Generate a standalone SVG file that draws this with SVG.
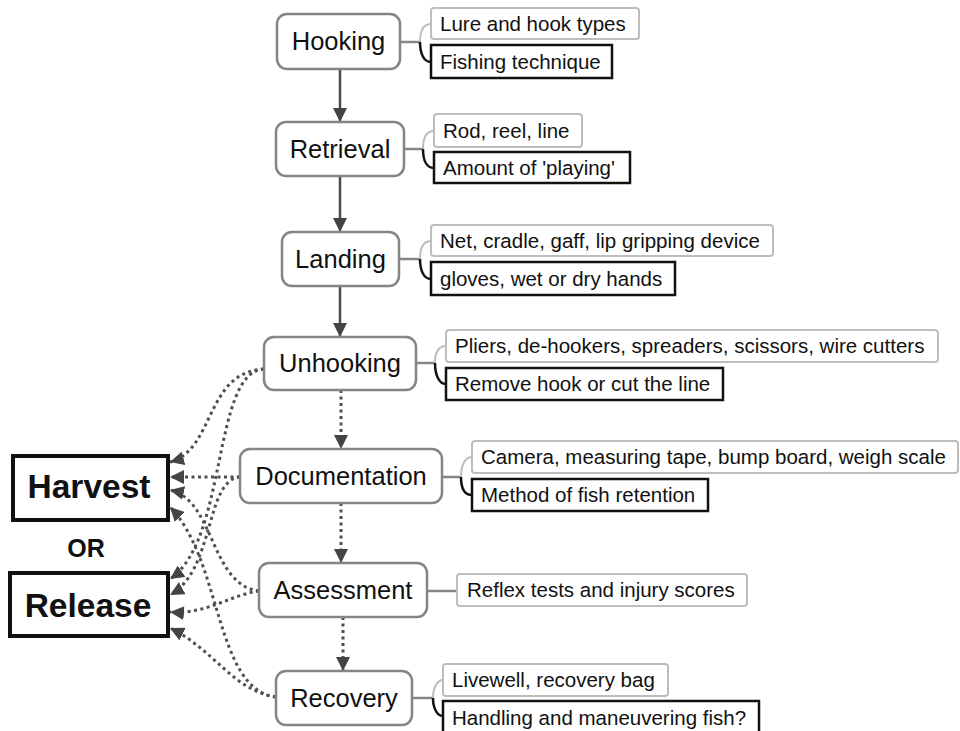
<svg xmlns="http://www.w3.org/2000/svg" width="960" height="731" viewBox="0 0 960 731">
<defs>
<style>
.node rect{fill:#fff;stroke:#858585;stroke-width:2.5}
.node text{font-family:"Liberation Sans",Arial,sans-serif;font-size:25.5px;fill:#111;text-anchor:middle}
.sub-g{fill:#fff;stroke:#bdbdbd;stroke-width:2}
.sub-b{fill:#fff;stroke:#111;stroke-width:2.5}
.st{font-family:"Liberation Sans",Arial,sans-serif;font-size:20.5px;fill:#111}
.big rect{fill:#fff;stroke:#111;stroke-width:4}
.big text{font-family:"Liberation Sans",Arial,sans-serif;font-weight:bold;font-size:33.5px;fill:#111;text-anchor:middle}
.hl{fill:none;stroke:#858585;stroke-width:2.5}
.cg{fill:none;stroke:#bdbdbd;stroke-width:2}
.cb{fill:none;stroke:#111;stroke-width:2.5}
.solid{fill:none;stroke:#4a4a4a;stroke-width:2.5}
.dot{fill:none;stroke:#4f4f4f;stroke-width:3;stroke-dasharray:3 3.5}
</style>
<marker id="ah" viewBox="0 0 12 12" refX="12" refY="6" markerWidth="14" markerHeight="14" markerUnits="userSpaceOnUse" orient="auto">
<path d="M0,0 L12,6 L0,12 z" fill="#444"/>
</marker>
</defs>
<rect width="960" height="731" fill="#fff"/>

<g id="connectors">
<!-- main flow -->
<path class="solid" d="M340,69 V122" marker-end="url(#ah)"/>
<path class="solid" d="M340,176 V232" marker-end="url(#ah)"/>
<path class="solid" d="M340,286 V337" marker-end="url(#ah)"/>
<path class="dot" d="M341,390 V449" marker-end="url(#ah)"/>
<path class="dot" d="M341,503 V563" marker-end="url(#ah)"/>
<path class="dot" d="M343,617 V671" marker-end="url(#ah)"/>
<!-- brackets -->
<path class="hl" d="M400,42 H420"/>
<path class="cg" d="M420,42 C420,30 424,24 431,24"/>
<path class="cb" d="M420,42 C420,54 424,62 431,62"/>
<path class="hl" d="M404,149 H423"/>
<path class="cg" d="M423,149 C423,137 427,131 434,131"/>
<path class="cb" d="M423,149 C423,161 427,168 434,168"/>
<path class="hl" d="M399,259 H420"/>
<path class="cg" d="M420,259 C420,247 424,241 431,241"/>
<path class="cb" d="M420,259 C420,271 424,279 431,279"/>
<path class="hl" d="M416,363 H435"/>
<path class="cg" d="M435,363 C435,352 439,346 446,346"/>
<path class="cb" d="M435,363 C435,375 439,384 446,384"/>
<path class="hl" d="M442,477 H461"/>
<path class="cg" d="M461,477 C461,465 465,457 472,457"/>
<path class="cb" d="M461,477 C461,489 465,495 472,495"/>
<path class="hl" d="M427,591 H457"/>
<path class="hl" d="M412,698 H433"/>
<path class="cg" d="M433,698 C433,688 437,680 443,680"/>
<path class="cb" d="M433,698 C433,708 437,716 443,716"/>
<!-- to Harvest / Release -->
<path class="dot" d="M264,369 C205,372 215,450 170,462" marker-end="url(#ah)"/>
<path class="dot" d="M264,369 C212,372 228,540 170,579" marker-end="url(#ah)"/>
<path class="dot" d="M240,477 H170" marker-end="url(#ah)"/>
<path class="dot" d="M240,477 C205,480 215,570 170,595" marker-end="url(#ah)"/>
<path class="dot" d="M259,591 C210,585 215,500 170,490" marker-end="url(#ah)"/>
<path class="dot" d="M259,591 C230,595 205,615 170,612" marker-end="url(#ah)"/>
<path class="dot" d="M276,697 C215,690 222,560 170,507" marker-end="url(#ah)"/>
<path class="dot" d="M276,697 C232,690 215,650 170,628" marker-end="url(#ah)"/>
</g>

<g id="hooking" class="node"><rect x="277" y="14" width="123" height="55" rx="10"/><text x="338.5" y="50">Hooking</text></g>
<g id="retrieval" class="node"><rect x="276" y="122" width="128" height="54" rx="10"/><text x="340" y="158">Retrieval</text></g>
<g id="landing" class="node"><rect x="282" y="232" width="117" height="54" rx="10"/><text x="340.5" y="268">Landing</text></g>
<g id="unhooking" class="node"><rect x="264" y="337" width="152" height="53" rx="10"/><text x="340" y="372">Unhooking</text></g>
<g id="documentation" class="node"><rect x="240" y="449" width="202" height="54" rx="10"/><text x="341" y="485">Documentation</text></g>
<g id="assessment" class="node"><rect x="259" y="563" width="168" height="54" rx="10"/><text x="343" y="599">Assessment</text></g>
<g id="recovery" class="node"><rect x="276" y="671" width="136" height="54" rx="10"/><text x="344" y="707">Recovery</text></g>

<g id="hooking-subs">
<rect class="sub-g" x="431" y="8" width="208" height="31" rx="3"/><text class="st" x="440" y="31">Lure and hook types</text>
<rect class="sub-b" x="431" y="45" width="181" height="33"/><text class="st" x="440" y="69">Fishing technique</text>
</g>
<g id="retrieval-subs">
<rect class="sub-g" x="434" y="114" width="148" height="33" rx="3"/><text class="st" x="443" y="138">Rod, reel, line</text>
<rect class="sub-b" x="434" y="152" width="196" height="31"/><text class="st" x="443" y="175">Amount of 'playing'</text>
</g>
<g id="landing-subs">
<rect class="sub-g" x="431" y="225" width="342" height="31" rx="3"/><text class="st" x="440" y="248">Net, cradle, gaff, lip gripping device</text>
<rect class="sub-b" x="431" y="262" width="244" height="33"/><text class="st" x="440" y="286">gloves, wet or dry hands</text>
</g>
<g id="unhooking-subs">
<rect class="sub-g" x="446" y="330" width="492" height="32" rx="3"/><text class="st" x="455" y="353">Pliers, de-hookers, spreaders, scissors, wire cutters</text>
<rect class="sub-b" x="446" y="368" width="277" height="32"/><text class="st" x="455" y="391">Remove hook or cut the line</text>
</g>
<g id="documentation-subs">
<rect class="sub-g" x="472" y="441" width="486" height="32" rx="3"/><text class="st" x="481" y="464">Camera, measuring tape, bump board, weigh scale</text>
<rect class="sub-b" x="472" y="479" width="236" height="32"/><text class="st" x="481" y="502">Method of fish retention</text>
</g>
<g id="assessment-subs">
<rect class="sub-g" x="457" y="574" width="290" height="32" rx="3"/><text class="st" x="467" y="597">Reflex tests and injury scores</text>
</g>
<g id="recovery-subs">
<rect class="sub-g" x="443" y="664" width="225" height="32" rx="3"/><text class="st" x="452" y="687">Livewell, recovery bag</text>
<rect class="sub-b" x="443" y="701" width="316" height="36"/><text class="st" x="452" y="725">Handling and maneuvering fish?</text>
</g>

<g id="harvest" class="big"><rect x="13" y="456" width="155" height="64"/><text x="89" y="498">Harvest</text></g>
<g id="or"><text x="86" y="557" style="font-family:'Liberation Sans',Arial,sans-serif;font-weight:bold;font-size:25px;fill:#111;text-anchor:middle">OR</text></g>
<g id="release" class="big"><rect x="10" y="573" width="158" height="63"/><text x="88" y="617">Release</text></g>
</svg>
